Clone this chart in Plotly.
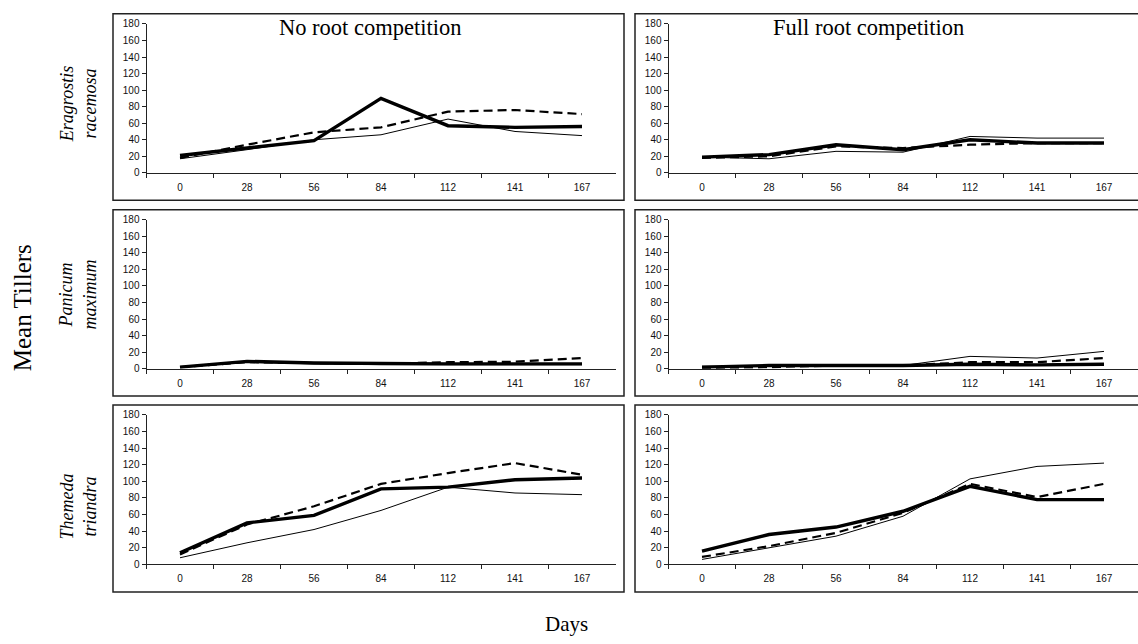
import plotly.graph_objects as go

# Sampling days (category axis)
days = ["0", "28", "56", "84", "112", "141", "167"]

# Eragrostis racemosa - no root competition
er_no_thin = [17, 28, 40, 46, 65, 50, 45]
er_no_thick = [21, 30, 39, 90, 57, 55, 56]
er_no_dash = [18, 34, 49, 55, 74, 76, 71]

# Eragrostis racemosa - full root competition
er_full_thin = [19, 17, 26, 25, 44, 42, 42]
er_full_thick = [19, 22, 34, 28, 40, 36, 36]
er_full_dash = [18, 20, 32, 30, 34, 36, 36]

# Panicum maximum - no root competition
pm_no_thin = [2, 8, 6, 5, 5, 5, 5]
pm_no_thick = [2, 9, 7, 6, 6, 6, 6]
pm_no_dash = [2, 8, 7, 6, 8, 8.5, 13]

# Panicum maximum - full root competition
pm_full_thin = [3, 3, 4, 4, 15, 13, 21]
pm_full_thick = [2, 4, 4, 4, 5.5, 4.7, 5.5]
pm_full_dash = [1, 2, 4, 4, 8, 8, 13]

# Themeda triandra - no root competition
tt_no_thin = [8, 26, 42, 65, 93, 86, 84]
tt_no_thick = [14, 50, 59, 91, 93, 102, 104]
tt_no_dash = [12, 48, 70, 97, 110, 122, 108]

# Themeda triandra - full root competition
tt_full_thin = [6, 20, 34, 58, 103, 118, 122]
tt_full_thick = [16, 36, 45, 64, 94, 78, 78]
tt_full_dash = [9, 22, 38, 62, 97, 81, 97]

row_labels = ["<i>Eragrostis</i><br><i>racemosa</i>",
              "<i>Panicum</i><br><i>maximum</i>",
              "<i>Themeda</i><br><i>triandra</i>"]
col_titles = ["No root competition", "Full root competition"]

W, H = 1138, 644


def fx(x):
    return x / W


def fy(y):
    return 1 - y / H


panels = [
    (0, 0, er_no_thin, er_no_thick, er_no_dash),
    (0, 1, er_full_thin, er_full_thick, er_full_dash),
    (1, 0, pm_no_thin, pm_no_thick, pm_no_dash),
    (1, 1, pm_full_thin, pm_full_thick, pm_full_dash),
    (2, 0, tt_no_thin, tt_no_thick, tt_no_dash),
    (2, 1, tt_full_thin, tt_full_thick, tt_full_dash),
]

# plot-area pixel extents
col_x = [(146.5, 615.5), (668.5, 1137.5)]
row_y = [(18.3, 170.0), (217.7, 369.7), (416.7, 569.0)]
# panel frame pixel extents
box_x = [(113, 624), (635, 1150)]
box_y = [(8, 198), (207.5, 397.5), (406.5, 597)]

fig = go.Figure()
layout = {}
tickfont = dict(family="Liberation Sans, Arial", size=10, color="#111")

for i, (r, c, thin, thick, dash) in enumerate(panels):
    n = i + 1
    xa = "x" if n == 1 else f"x{n}"
    ya = "y" if n == 1 else f"y{n}"
    fig.add_trace(go.Scatter(x=days, y=thin, mode="lines", xaxis=xa, yaxis=ya,
                             line=dict(color="black", width=1)))
    fig.add_trace(go.Scatter(x=days, y=dash, mode="lines", xaxis=xa, yaxis=ya,
                             line=dict(color="black", width=2.2, dash="9px,5px")))
    fig.add_trace(go.Scatter(x=days, y=thick, mode="lines", xaxis=xa, yaxis=ya,
                             line=dict(color="black", width=3.4)))
    x0, x1 = col_x[c]
    ytop, ybot = row_y[r]
    layout["xaxis" if n == 1 else f"xaxis{n}"] = dict(
        domain=[fx(x0), fx(x1)], anchor=ya, type="category",
        categoryorder="array", categoryarray=days, range=[-0.5, 6.5],
        showline=True, linecolor="#222", linewidth=1, ticks="outside",
        ticklen=4, tickcolor="#222", tickson="boundaries", showgrid=False,
        zeroline=False, tickfont=tickfont, ticklabelstandoff=5,
        fixedrange=True)
    layout["yaxis" if n == 1 else f"yaxis{n}"] = dict(
        domain=[fy(ybot), fy(ytop)], anchor=xa, range=[0, 180], dtick=20,
        showline=True, linecolor="#222", linewidth=1, ticks="outside",
        ticklen=4, tickcolor="#222", showgrid=False, zeroline=False,
        tickfont=tickfont, fixedrange=True)

shapes = []
for r in range(3):
    for c in range(2):
        bx0, bx1 = box_x[c]
        by0, by1 = box_y[r]
        shapes.append(dict(type="rect", xref="paper", yref="paper",
                           x0=fx(bx0), x1=fx(bx1), y0=fy(by1), y1=fy(by0),
                           line=dict(color="#222", width=1.5), layer="above"))

serif = "Liberation Serif, Times New Roman, serif"


def label(text, x, y, size, angle=0):
    return dict(text=text, x=fx(x), y=fy(y), xref="paper", yref="paper",
                xanchor="center", yanchor="middle", showarrow=False,
                textangle=angle,
                font=dict(family=serif, size=size, color="black"))


annotations = [
    label(col_titles[0], 370, 22, 22.5),
    label(col_titles[1], 868, 22, 22.5),
    label("Mean Tillers", 22, 308, 25, -90),
    label("Days", 566, 630, 21),
]
for r, lab in enumerate(row_labels):
    yc = [100, 294, 510][r]
    annotations.append(label(lab, 78, yc, 18, -90))

fig.update_layout(
    width=W, height=H, margin=dict(l=0, r=0, t=0, b=0),
    paper_bgcolor="white", plot_bgcolor="white", showlegend=False,
    shapes=shapes, annotations=annotations, **layout)

fig.write_html("out.html", config={"displayModeBar": False})
